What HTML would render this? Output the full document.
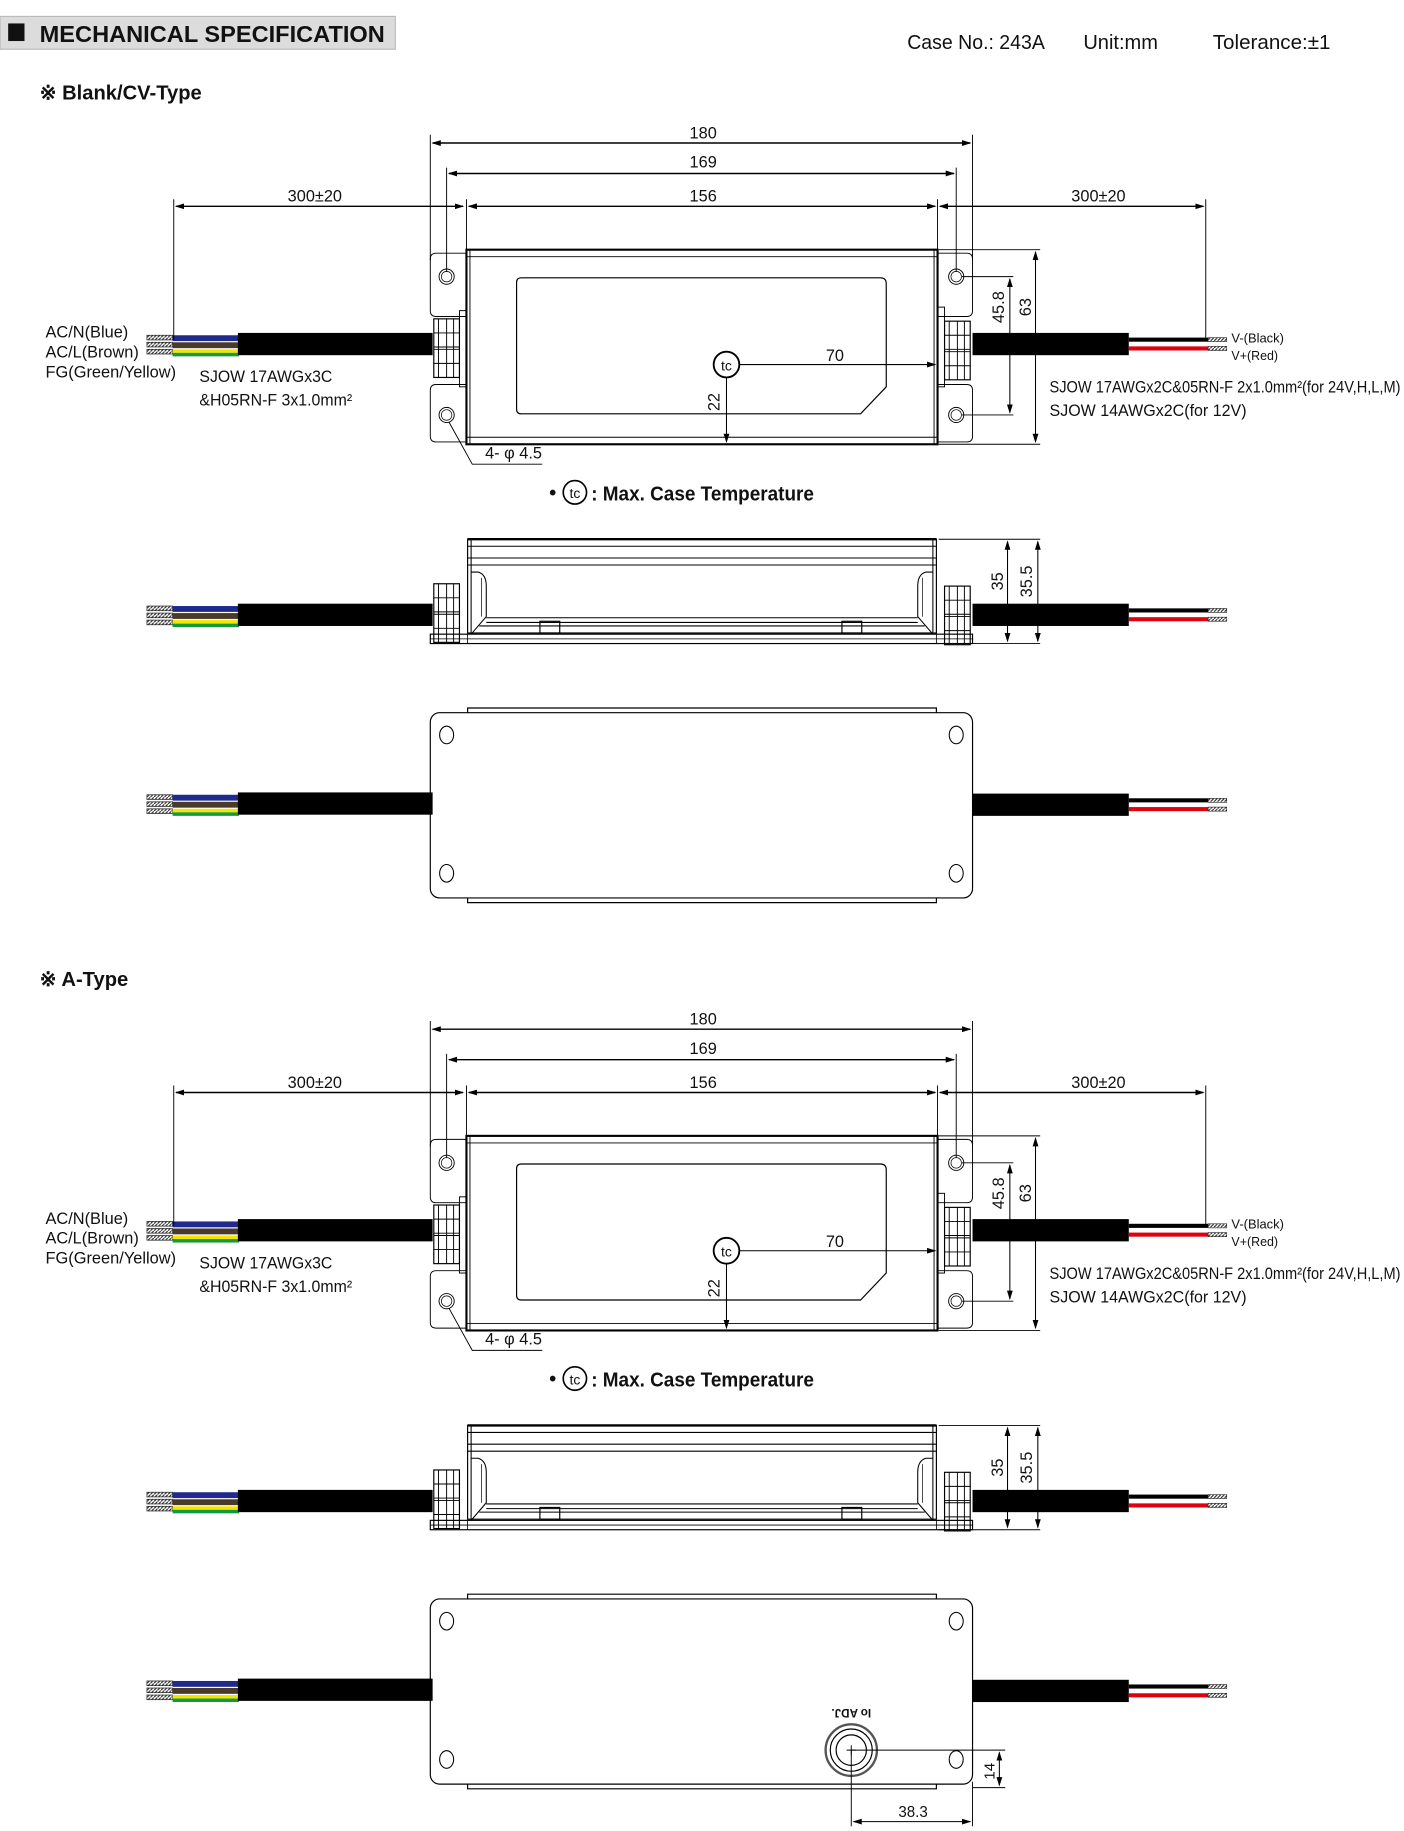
<!DOCTYPE html>
<html><head><meta charset="utf-8"><style>
html,body{margin:0;padding:0;background:#fff;}
svg{display:block;}
text{font-family:"Liberation Sans Narrow","Liberation Sans",sans-serif;fill:#111;}
.b{font-family:"Liberation Sans",sans-serif;font-weight:bold;}
</style></head><body>
<svg width="1404" height="1831" viewBox="0 0 1204 1562" preserveAspectRatio="none" xmlns="http://www.w3.org/2000/svg">
<defs>
<pattern id="hat" width="3" height="3" patternUnits="userSpaceOnUse"><rect width="3" height="3" fill="#fff"/><path d="M0 3L3 0" stroke="#333" stroke-width="1"/></pattern>
<marker id="ar" markerWidth="8" markerHeight="6" refX="7" refY="3" orient="auto" markerUnits="userSpaceOnUse"><path d="M0 0.5L8 3L0 5.5z" fill="#000"/></marker>
<marker id="al" markerWidth="8" markerHeight="6" refX="1" refY="3" orient="auto" markerUnits="userSpaceOnUse"><path d="M8 0.5L0 3L8 5.5z" fill="#000"/></marker>

<g id="lw">
<rect x="126" y="-8" width="22" height="4" fill="url(#hat)" stroke="#222" stroke-width="0.6"/>
<rect x="126" y="-2" width="22" height="4" fill="url(#hat)" stroke="#222" stroke-width="0.6"/>
<rect x="126" y="4" width="22" height="4" fill="url(#hat)" stroke="#222" stroke-width="0.6"/>
<rect x="148" y="-8" width="57" height="5" fill="#1f2a8c"/>
<rect x="148" y="-2" width="57" height="5" fill="#4a3a2c"/>
<rect x="148" y="4" width="57" height="3" fill="#f2e600"/>
<rect x="148" y="7" width="57" height="3" fill="#139a3c"/>
<rect x="204" y="-10" width="167" height="19" fill="#000"/>
</g>
<g id="rw">
<rect x="834" y="-10" width="134" height="19" fill="#000"/>
<rect x="968" y="-6" width="68" height="3.5" fill="#000"/>
<rect x="968" y="1.5" width="68" height="3.5" fill="#e00010"/>
<rect x="1036" y="-6" width="16" height="3.5" fill="url(#hat)" stroke="#222" stroke-width="0.5"/>
<rect x="1036" y="1.5" width="16" height="3.5" fill="url(#hat)" stroke="#222" stroke-width="0.5"/>
</g>
<g id="gland">
<rect x="0" y="0" width="22" height="50" fill="#fff" stroke="#000"/>
<path d="M4 0V50M11 0V50M17 0V50M0 12H22M0 24H22M0 26H22M0 38H22" stroke="#000" stroke-width="0.8" fill="none"/>
</g>

<g id="top" fill="none" stroke="#000">
<path d="M369 115V222M834 115V222M383 143V232M820 143V232M400 170V213M804 170V213M149 170V290M1034 170V290" stroke-width="0.8"/>
<line x1="371" y1="122" x2="832" y2="122" marker-start="url(#al)" marker-end="url(#ar)" stroke-width="1.2"/>
<line x1="385" y1="148" x2="818" y2="148" marker-start="url(#al)" marker-end="url(#ar)" stroke-width="1.2"/>
<line x1="151" y1="176" x2="397" y2="176" marker-start="url(#al)" marker-end="url(#ar)" stroke-width="1.2"/>
<line x1="402" y1="176" x2="802" y2="176" marker-start="url(#al)" marker-end="url(#ar)" stroke-width="1.2"/>
<line x1="806" y1="176" x2="1032" y2="176" marker-start="url(#al)" marker-end="url(#ar)" stroke-width="1.2"/>
<path d="M400 216H374Q369 216 369 221V265Q369 270 374 270H400" stroke-width="0.8"/>
<path d="M400 328H374Q369 328 369 333V372Q369 377 374 377H400" stroke-width="0.8"/>
<path d="M804 216H829Q834 216 834 221V265Q834 270 829 270H804" stroke-width="0.8"/>
<path d="M804 328H829Q834 328 834 333V372Q834 377 829 377H804" stroke-width="0.8"/>
<circle cx="383" cy="236" r="6.5" stroke-width="0.8"/><circle cx="383" cy="236" r="4.5" stroke-width="0.6"/>
<circle cx="383" cy="354" r="6.5" stroke-width="0.8"/><circle cx="383" cy="354" r="4.5" stroke-width="0.6"/>
<circle cx="820" cy="236" r="6.5" stroke-width="0.8"/><circle cx="820" cy="236" r="4.5" stroke-width="0.6"/>
<circle cx="820" cy="354" r="6.5" stroke-width="0.8"/><circle cx="820" cy="354" r="4.5" stroke-width="0.6"/>
<rect x="400" y="213" width="404" height="166" stroke-width="1.8"/>
<path d="M403 213V379M801 213V379M400 219H804M400 373H804" stroke-width="0.8"/>
<path d="M443 241Q443 237 447 237H755Q760 237 760 242V330L738 353H447Q443 353 443 349Z" stroke-width="1"/>
<rect x="394" y="265" width="6" height="65" stroke-width="0.8"/>
<rect x="804" y="262" width="6" height="68" stroke-width="0.8"/>
<circle cx="623" cy="311" r="11" stroke-width="1.6"/>
<line x1="634" y1="311" x2="802" y2="311" marker-end="url(#ar)" stroke-width="0.9"/>
<line x1="623" y1="322" x2="623" y2="377" marker-end="url(#ar)" stroke-width="0.9"/>
<path d="M825 236H869M825 354H869M805 213H892M805 379H892" stroke-width="0.8"/>
<line x1="866" y1="238" x2="866" y2="352" marker-start="url(#al)" marker-end="url(#ar)" stroke-width="0.9"/>
<line x1="888" y1="215" x2="888" y2="377" marker-start="url(#al)" marker-end="url(#ar)" stroke-width="0.9"/>
<path d="M385 360L405 396H465" stroke-width="0.8"/>
</g>

<g id="side" fill="none" stroke="#000">
<rect x="401" y="460" width="402" height="80" stroke-width="1"/>
<path d="M401 460H803" stroke-width="2"/>
<path d="M404 460V541M800 460V541M401 466H803M401 476H803M401 482H803" stroke-width="0.9"/>
<path d="M404 488H410Q417 490 417 500V526L404 541M800 488H794Q787 490 787 500V526L800 541" stroke-width="0.9"/>
<path d="M413 493V526M791 493V526" stroke-width="0.6"/>
<path d="M417 527H787M417 531H787M411 534H793" stroke-width="0.9"/>
<rect x="463" y="530" width="17" height="10" stroke-width="1"/>
<rect x="722" y="530" width="17" height="10" stroke-width="1"/>
<rect x="369" y="541" width="465" height="8" stroke-width="1"/>
<path d="M401 541V549M803 541V549M369 545H834" stroke-width="0.7"/>
<path d="M805 460H892M805 549H892" stroke-width="0.8"/>
<line x1="864" y1="462" x2="864" y2="547" marker-start="url(#al)" marker-end="url(#ar)" stroke-width="0.9"/>
<line x1="890" y1="462" x2="890" y2="547" marker-start="url(#al)" marker-end="url(#ar)" stroke-width="0.9"/>
</g>

<g id="bot" fill="none" stroke="#000">
<rect x="369" y="608" width="465" height="158" rx="8" stroke-width="1"/>
<path d="M401 608V604H803V608M401 766V770H803V766" stroke-width="1"/>
<ellipse cx="383" cy="627" rx="6" ry="7.5" stroke-width="0.9"/>
<ellipse cx="820" cy="627" rx="6" ry="7.5" stroke-width="0.9"/>
<ellipse cx="383" cy="745" rx="6" ry="7.5" stroke-width="0.9"/>
<ellipse cx="820" cy="745" rx="6" ry="7.5" stroke-width="0.9"/>
</g>

<g id="set">
<use href="#lw" transform="translate(0,294)"/>
<use href="#rw" transform="translate(0,294)"/>
<use href="#gland" transform="translate(372,272)"/>
<use href="#gland" transform="translate(810,274)"/>
<use href="#top"/>
<use href="#lw" transform="translate(0,525)"/>
<use href="#rw" transform="translate(0,525)"/>
<use href="#gland" transform="translate(372,498)"/>
<use href="#gland" transform="translate(810,500)"/>
<use href="#side"/>
<use href="#lw" transform="translate(0,686)"/>
<use href="#rw" transform="translate(0,687)"/>
<use href="#bot"/>
</g>
</defs>

<rect x="0" y="14" width="339" height="28" fill="#dcdcdc" stroke="#bbb"/>
<rect x="7" y="20" width="14" height="15" fill="#111"/>
<text x="34" y="36" class="b" font-size="20" textLength="296" lengthAdjust="spacingAndGlyphs">MECHANICAL SPECIFICATION</text>
<text x="778" y="42" font-size="17" textLength="118" lengthAdjust="spacingAndGlyphs">Case No.: 243A</text>
<text x="929" y="42" font-size="17" textLength="64" lengthAdjust="spacingAndGlyphs">Unit:mm</text>
<text x="1040" y="42" font-size="17" textLength="101" lengthAdjust="spacingAndGlyphs">Tolerance:±1</text>

<use href="#set"/>
<use href="#set" transform="translate(0,756)"/>

<g fill="none" stroke="#000">
<circle cx="730" cy="1493" r="22" stroke="#555" stroke-width="2"/>
<circle cx="730" cy="1493" r="18" stroke-width="1"/>
<circle cx="730" cy="1493" r="13" stroke-width="1"/>
<path d="M726 1493H734M730 1489V1497" stroke-width="0.8"/>
<path d="M730 1493H862M730 1493V1558M834 1525H862M834 1520V1558" stroke-width="0.8"/>
<line x1="857" y1="1495" x2="857" y2="1523" marker-start="url(#al)" marker-end="url(#ar)" stroke-width="0.9"/>
<line x1="732" y1="1554" x2="832" y2="1554" marker-start="url(#al)" marker-end="url(#ar)" stroke-width="0.9"/>
</g>
<text x="730" y="1458" font-size="10" class="b" text-anchor="middle" transform="rotate(180 730 1458)">Io ADJ.</text>
<text x="783" y="1550" font-size="13" text-anchor="middle">38.3</text>
<text x="0" y="0" font-size="13" text-anchor="middle" transform="translate(853,1511) rotate(-90)">14</text>

<text x="34" y="85" class="b" font-size="17" textLength="139" lengthAdjust="spacingAndGlyphs">※ Blank/CV-Type</text>
<text x="34" y="841" class="b" font-size="17" textLength="76" lengthAdjust="spacingAndGlyphs">※ A-Type</text>

<g>
<text x="603" y="118" font-size="14" text-anchor="middle">180</text>
<text x="603" y="143" font-size="14" text-anchor="middle">169</text>
<text x="603" y="172" font-size="14" text-anchor="middle">156</text>
<text x="270" y="172" font-size="14" text-anchor="middle">300±20</text>
<text x="942" y="172" font-size="14" text-anchor="middle">300±20</text>
<text x="39" y="288" font-size="14" textLength="71" lengthAdjust="spacingAndGlyphs">AC/N(Blue)</text>
<text x="39" y="305" font-size="14" textLength="80" lengthAdjust="spacingAndGlyphs">AC/L(Brown)</text>
<text x="39" y="322" font-size="14" textLength="112" lengthAdjust="spacingAndGlyphs">FG(Green/Yellow)</text>
<text x="171" y="326" font-size="14" textLength="114" lengthAdjust="spacingAndGlyphs">SJOW 17AWGx3C</text>
<text x="171" y="346" font-size="14" textLength="131" lengthAdjust="spacingAndGlyphs">&amp;H05RN-F 3x1.0mm²</text>
<text x="1056" y="292" font-size="11" textLength="45" lengthAdjust="spacingAndGlyphs">V-(Black)</text>
<text x="1056" y="307" font-size="11" textLength="40" lengthAdjust="spacingAndGlyphs">V+(Red)</text>
<text x="900" y="335" font-size="14" textLength="301" lengthAdjust="spacingAndGlyphs">SJOW 17AWGx2C&amp;05RN-F 2x1.0mm²(for 24V,H,L,M)</text>
<text x="900" y="355" font-size="14" textLength="169" lengthAdjust="spacingAndGlyphs">SJOW 14AWGx2C(for 12V)</text>
<text x="623" y="316" font-size="12" text-anchor="middle">tc</text>
<text x="716" y="308" font-size="14" text-anchor="middle">70</text>
<text font-size="14" text-anchor="middle" transform="translate(617,343) rotate(-90)">22</text>
<text font-size="14" text-anchor="middle" transform="translate(861,262) rotate(-90)">45.8</text>
<text font-size="14" text-anchor="middle" transform="translate(884,262) rotate(-90)">63</text>
<text x="416" y="391" font-size="14">4- φ 4.5</text>
<text x="471" y="426" class="b" font-size="17">•</text>
<circle cx="493" cy="420" r="10" fill="none" stroke="#000" stroke-width="1.4"/>
<text x="493" y="425" font-size="12" text-anchor="middle">tc</text>
<text x="507" y="427" class="b" font-size="17" textLength="191" lengthAdjust="spacingAndGlyphs">: Max. Case Temperature</text>
<text font-size="14" text-anchor="middle" transform="translate(860,496) rotate(-90)">35</text>
<text font-size="14" text-anchor="middle" transform="translate(885,496) rotate(-90)">35.5</text>
</g>
<g transform="translate(0,756)">
<text x="603" y="118" font-size="14" text-anchor="middle">180</text>
<text x="603" y="143" font-size="14" text-anchor="middle">169</text>
<text x="603" y="172" font-size="14" text-anchor="middle">156</text>
<text x="270" y="172" font-size="14" text-anchor="middle">300±20</text>
<text x="942" y="172" font-size="14" text-anchor="middle">300±20</text>
<text x="39" y="288" font-size="14" textLength="71" lengthAdjust="spacingAndGlyphs">AC/N(Blue)</text>
<text x="39" y="305" font-size="14" textLength="80" lengthAdjust="spacingAndGlyphs">AC/L(Brown)</text>
<text x="39" y="322" font-size="14" textLength="112" lengthAdjust="spacingAndGlyphs">FG(Green/Yellow)</text>
<text x="171" y="326" font-size="14" textLength="114" lengthAdjust="spacingAndGlyphs">SJOW 17AWGx3C</text>
<text x="171" y="346" font-size="14" textLength="131" lengthAdjust="spacingAndGlyphs">&amp;H05RN-F 3x1.0mm²</text>
<text x="1056" y="292" font-size="11" textLength="45" lengthAdjust="spacingAndGlyphs">V-(Black)</text>
<text x="1056" y="307" font-size="11" textLength="40" lengthAdjust="spacingAndGlyphs">V+(Red)</text>
<text x="900" y="335" font-size="14" textLength="301" lengthAdjust="spacingAndGlyphs">SJOW 17AWGx2C&amp;05RN-F 2x1.0mm²(for 24V,H,L,M)</text>
<text x="900" y="355" font-size="14" textLength="169" lengthAdjust="spacingAndGlyphs">SJOW 14AWGx2C(for 12V)</text>
<text x="623" y="316" font-size="12" text-anchor="middle">tc</text>
<text x="716" y="308" font-size="14" text-anchor="middle">70</text>
<text font-size="14" text-anchor="middle" transform="translate(617,343) rotate(-90)">22</text>
<text font-size="14" text-anchor="middle" transform="translate(861,262) rotate(-90)">45.8</text>
<text font-size="14" text-anchor="middle" transform="translate(884,262) rotate(-90)">63</text>
<text x="416" y="391" font-size="14">4- φ 4.5</text>
<text x="471" y="426" class="b" font-size="17">•</text>
<circle cx="493" cy="420" r="10" fill="none" stroke="#000" stroke-width="1.4"/>
<text x="493" y="425" font-size="12" text-anchor="middle">tc</text>
<text x="507" y="427" class="b" font-size="17" textLength="191" lengthAdjust="spacingAndGlyphs">: Max. Case Temperature</text>
<text font-size="14" text-anchor="middle" transform="translate(860,496) rotate(-90)">35</text>
<text font-size="14" text-anchor="middle" transform="translate(885,496) rotate(-90)">35.5</text>
</g>
</svg>
</body></html>
